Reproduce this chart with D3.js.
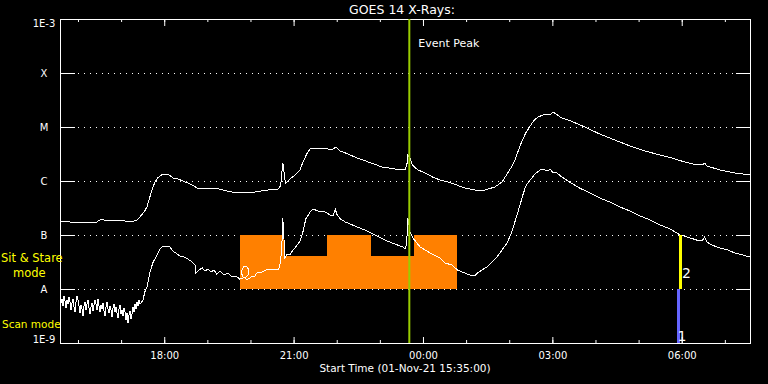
<!DOCTYPE html>
<html><head><meta charset="utf-8">
<script src="https://cdn.jsdelivr.net/npm/d3@7"></script>
<style>
html,body{margin:0;padding:0;background:#000;}
svg{display:block;background:#000;}
text{font-family:"DejaVu Sans",sans-serif;fill:#fff;}
</style>
</head><body>
<svg id="chart" width="768" height="384"></svg>
<script>
// ---------- data ----------
const titleText = "GOES 14 X-Rays:";
const startTime = "2021-11-01T15:35:00Z";
const startLabel = "Start Time (01-Nov-21 15:35:00)";
const spanMinutes = 960;

const levelValues = [1e-9, 1e-8, 1e-7, 1e-6, 1e-5, 1e-4, 1e-3];
const levelLabels = ["1E-9", "A", "B", "C", "M", "X", "1E-3"];

// long channel (1-8 A), minutes after start, W/m^2
const longTimes = [0,14,28,42,51,58,64,77,90,100,107,111,117,121,125,129,132,136,141,146,152,157,164,171,181,191,202,216,227,239,250,271,289,303,307,309,310,311,313,314,320,327,334,338,344,348,355,365,373,378,384,390,401,410,429,448,466,480,483,484,487,490,498,508,518,529,540,552,563,577,591,605,615,623,629,633,637,640,644,648,654,660,665,672,679,683,686,690,698,707,717,730,751,772,793,814,835,851,869,886,894,897,900,918,939,960];
const longFlux = [1.82e-7,1.74e-7,1.74e-7,1.67e-7,1.74e-7,1.98e-7,1.82e-7,1.82e-7,1.82e-7,1.74e-7,1.90e-7,2.15e-7,2.67e-7,3.30e-7,5.05e-7,7.41e-7,9.57e-7,1.14e-6,1.29e-6,1.35e-6,1.29e-6,1.14e-6,1.09e-6,1.00e-6,8.79e-7,7.41e-7,7.41e-7,7.41e-7,6.81e-7,6.25e-7,5.99e-7,6.25e-7,6.81e-7,7.10e-7,8.07e-7,1.60e-6,2.15e-6,1.74e-6,1.04e-6,9.18e-7,1.09e-6,1.29e-6,1.60e-6,2.25e-6,3.30e-6,3.91e-6,4.08e-6,4.08e-6,3.91e-6,3.75e-6,4.26e-6,3.59e-6,3.16e-6,2.78e-6,2.25e-6,1.82e-6,1.67e-6,1.60e-6,2.15e-6,3.03e-6,2.67e-6,1.98e-6,1.60e-6,1.41e-6,1.19e-6,1.04e-6,9.57e-7,8.43e-7,7.41e-7,6.81e-7,6.81e-7,7.74e-7,9.57e-7,1.41e-6,1.90e-6,2.45e-6,3.44e-6,4.45e-6,5.99e-6,7.74e-6,1.04e-5,1.35e-5,1.53e-5,1.67e-5,1.67e-5,1.74e-5,1.90e-5,1.74e-5,1.47e-5,1.35e-5,1.19e-5,1.00e-5,7.41e-6,5.74e-6,4.45e-6,3.59e-6,3.03e-6,2.67e-6,2.25e-6,1.98e-6,1.98e-6,2.15e-6,1.90e-6,1.60e-6,1.41e-6,1.29e-6];

// short channel (0.5-4 A)
const shortTimes = [0,1.4,2.8,4.2,5.6,7.0,8.3,9.7,11.1,12.5,13.9,15.3,16.7,18.1,19.5,20.9,22.3,23.7,25.0,26.4,27.8,29.2,30.6,32.0,33.4,34.8,36.2,37.6,39.0,40.4,41.7,43.1,44.5,45.9,47.3,48.7,50.1,51.5,52.9,54.3,55.7,57.1,58.4,59.8,61.2,62.6,64.0,65.4,66.8,68.2,69.6,71.0,72.3,73.7,75.1,76.5,77.9,79.3,80.7,82.1,83.5,84.9,86.3,87.7,89.0,90.4,91.8,93.2,94.6,96.0,97.4,98.8,100.2,101.6,102.9,104.3,105.7,107.1,108.5,109.9,111.3,
  115.5,118,121,125,129,135,139,143,147,153,157,161,167,173,178,184,188,189,193,198,202,206,210,214,218,223,228,234,239,245,250,255,
  252,255,259,263,262,257,260,266,271,275,281,287,292,298,304,307,309,310,311,313,316,320,324,328,334,338,342,348,352,359,369,376,380,383,385,390,397,410,424,438,452,466,477,481,483,484,485,487,491,501,515,529,536,545,553,563,570,577,581,587,594,601,608,615,622,628,632,636,640,644,648,654,661,668,675,679,682,686,690,698,709,723,737,751,765,779,793,807,821,835,849,863,877,890,894,897,900,907,918,929,939,950,960];
const shortFlux = [7.10e-9,5.50e-9,6.52e-9,4.85e-9,7.41e-9,5.99e-9,4.45e-9,6.25e-9,5.27e-9,7.10e-9,5.74e-9,4.08e-9,5.50e-9,6.52e-9,4.64e-9,3.75e-9,5.74e-9,7.41e-9,6.25e-9,4.85e-9,3.59e-9,5.05e-9,4.26e-9,3.16e-9,4.85e-9,5.74e-9,4.08e-9,5.27e-9,6.25e-9,4.45e-9,3.44e-9,4.64e-9,5.50e-9,3.91e-9,5.05e-9,6.25e-9,5.27e-9,4.08e-9,6.52e-9,4.85e-9,3.75e-9,5.05e-9,4.26e-9,5.50e-9,3.91e-9,3.16e-9,4.64e-9,5.74e-9,4.26e-9,3.59e-9,4.85e-9,4.08e-9,3.03e-9,4.45e-9,5.27e-9,3.75e-9,4.64e-9,3.59e-9,2.90e-9,4.26e-9,5.05e-9,3.44e-9,4.08e-9,3.16e-9,4.45e-9,3.75e-9,2.67e-9,3.59e-9,2.35e-9,3.30e-9,3.91e-9,2.78e-9,3.44e-9,4.64e-9,3.75e-9,5.27e-9,4.26e-9,5.74e-9,4.85e-9,6.25e-9,5.27e-9,
  6.25e-9,8.79e-9,1.09e-8,1.98e-8,3.03e-8,4.26e-8,5.50e-8,6.25e-8,6.25e-8,5.99e-8,5.05e-8,4.64e-8,4.08e-8,3.91e-8,3.59e-8,3.16e-8,2.78e-8,1.98e-8,2.25e-8,2.45e-8,2.15e-8,2.35e-8,2.06e-8,2.25e-8,1.90e-8,2.15e-8,1.82e-8,1.98e-8,1.67e-8,1.74e-8,1.53e-8,1.60e-8,
  2.06e-8,2.55e-8,2.67e-8,2.25e-8,1.82e-8,1.60e-8,1.47e-8,1.67e-8,1.74e-8,2.06e-8,2.06e-8,2.25e-8,2.35e-8,2.25e-8,2.25e-8,3.16e-8,8.07e-8,2.06e-7,1.24e-7,3.75e-8,4.45e-8,4.26e-8,5.27e-8,5.99e-8,7.74e-8,1.14e-7,1.98e-7,2.67e-7,3.03e-7,2.78e-7,2.67e-7,2.35e-7,2.25e-7,3.03e-7,2.45e-7,1.98e-7,1.74e-7,1.47e-7,1.24e-7,1.00e-7,8.07e-8,6.81e-8,5.99e-8,5.50e-8,1.00e-7,2.06e-7,1.74e-7,1.14e-7,8.79e-8,5.99e-8,4.64e-8,3.75e-8,3.03e-8,2.78e-8,2.25e-8,1.98e-8,1.82e-8,1.74e-8,1.98e-8,2.25e-8,2.55e-8,3.16e-8,3.91e-8,5.27e-8,7.10e-8,1.09e-7,1.60e-7,2.35e-7,3.59e-7,5.50e-7,8.07e-7,1.04e-6,1.35e-6,1.60e-6,1.60e-6,1.53e-6,1.67e-6,1.41e-6,1.47e-6,1.19e-6,9.57e-7,7.41e-7,5.99e-7,4.85e-7,4.08e-7,3.30e-7,2.78e-7,2.25e-7,1.90e-7,1.53e-7,1.29e-7,1.00e-7,8.79e-8,7.74e-8,8.07e-8,9.18e-8,7.41e-8,6.52e-8,5.74e-8,5.27e-8,4.64e-8,4.26e-8,3.91e-8];

// observing mode blocks (orange)
const modeStarts = [250, 311, 371, 432, 492];
const modeEnds   = [311, 371, 432, 492, 553];
const modeTops   = [1e-7, 4e-8, 1e-7, 4e-8, 1e-7];
const modeBase   = 1e-8;

const eventPeakMinute = 486;
const eventLabel = "Event Peak";

// mode markers (1 = scan, 2 = sit & stare)
const markerMinutes = [860.5, 863.3];
const markerLows    = [1e-9, 1e-8];
const markerHighs   = [1e-8, 1e-7];
const markerLabels  = ["1", "2"];

// ---------- drawing ----------
const svg = d3.select("#chart");
const t0 = new Date(startTime);
const toDate = m => new Date(t0.getTime() + m * 60000);

const x = d3.scaleUtc().domain([t0, toDate(spanMinutes)]).range([60, 750]);
const y = d3.scaleLog().domain([1e-9, 1e-3]).range([343, 19]);

const gridVals = levelValues.slice(1, -1);

// dotted grid
svg.append("g").selectAll("line").data(gridVals).join("line")
  .attr("x1", 78).attr("x2", 737)
  .attr("y1", d => y(d) + 0.5).attr("y2", d => y(d) + 0.5)
  .attr("stroke", "#fff").attr("stroke-width", 1)
  .attr("stroke-dasharray", "1,5").attr("shape-rendering", "crispEdges");

// orange blocks
const modes = modeStarts.map((s, i) => ({s, e: modeEnds[i], top: modeTops[i]}));
svg.append("g").selectAll("rect").data(modes).join("rect")
  .attr("x", d => x(toDate(d.s)))
  .attr("width", d => x(toDate(d.e)) - x(toDate(d.s)))
  .attr("y", d => y(d.top))
  .attr("height", d => y(modeBase) - y(d.top))
  .attr("fill", "#ff8000").attr("shape-rendering", "crispEdges");

// axes ticks
const rmDomain = g => g.select(".domain").remove();
svg.append("g").attr("transform", "translate(0,343)")
  .call(d3.axisBottom(x).ticks(d3.utcHour.every(1)).tickFormat("").tickSizeInner(-3).tickSizeOuter(0)).call(rmDomain);
svg.append("g").attr("transform", "translate(0,343)")
  .call(d3.axisBottom(x).ticks(d3.utcHour.every(3)).tickFormat(d3.utcFormat("%H:%M")).tickSizeInner(-6).tickSizeOuter(0).tickPadding(9)).call(rmDomain);
svg.append("g").attr("transform", "translate(0,19)")
  .call(d3.axisTop(x).ticks(d3.utcHour.every(1)).tickFormat("").tickSizeInner(-3).tickSizeOuter(0)).call(rmDomain);
svg.append("g").attr("transform", "translate(0,19)")
  .call(d3.axisTop(x).ticks(d3.utcHour.every(3)).tickFormat("").tickSizeInner(-7).tickSizeOuter(0)).call(rmDomain);
svg.append("g").attr("transform", "translate(60,0)")
  .call(d3.axisLeft(y).tickValues(gridVals).tickFormat("").tickSizeInner(-15).tickSizeOuter(0)).call(rmDomain);
svg.append("g").attr("transform", "translate(750,0)")
  .call(d3.axisRight(y).tickValues(gridVals).tickFormat("").tickSizeInner(-14).tickSizeOuter(0)).call(rmDomain);
svg.selectAll(".tick line").attr("stroke", "#fff");
svg.selectAll(".tick text").attr("fill", "#fff").style("font-family", "DejaVu Sans").style("font-size", "10px");

// frame
svg.append("rect").attr("x", 60.5).attr("y", 19.5).attr("width", 690).attr("height", 324)
  .attr("fill", "none").attr("stroke", "#fff").attr("stroke-width", 1);

// y labels
svg.append("g").selectAll("text").data(levelValues).join("text")
  .attr("x", 44).attr("text-anchor", "middle").style("font-size", "10px")
  .attr("y", d => Math.min(343.3, Math.max(26.7, y(d) + 4)))
  .text((d, i) => levelLabels[i]);

// curves
const line = d3.line().x(d => x(toDate(d[0]))).y(d => y(d[1]));
const longPts = longTimes.map((t, i) => [t, longFlux[i]]);
const shortPts = shortTimes.map((t, i) => [t, shortFlux[i]]);
svg.append("path").datum(longPts).attr("d", line)
  .attr("fill", "none").attr("stroke", "#fff").attr("stroke-width", 1).attr("shape-rendering", "crispEdges");
svg.append("path").datum(shortPts).attr("d", line)
  .attr("fill", "none").attr("stroke", "#fff").attr("stroke-width", 1).attr("shape-rendering", "crispEdges");

// markers
const markers = markerMinutes.map((m, i) => ({m, lo: markerLows[i], hi: markerHighs[i], label: markerLabels[i]}));
const markerColors = ["#6666ff", "#ffff00"];
svg.append("g").selectAll("line").data(markers).join("line")
  .attr("x1", d => x(toDate(d.m))).attr("x2", d => x(toDate(d.m)))
  .attr("y1", d => y(d.lo)).attr("y2", d => y(d.hi))
  .attr("stroke", (d, i) => markerColors[i]).attr("stroke-width", 3);
svg.append("g").selectAll("text").data(markers).join("text")
  .attr("x", (d, i) => x(toDate(d.m)) + (i === 0 ? -1 : 1.5))
  .attr("y", (d, i) => i === 0 ? 341 : 278)
  .style("font-size", "14px").attr("fill", "#e0e0e0")
  .text(d => d.label);

// event peak line
const xp = x(toDate(eventPeakMinute));
svg.append("line").attr("x1", xp).attr("x2", xp).attr("y1", 19).attr("y2", 343)
  .attr("stroke", "#99cc00").attr("stroke-width", 2);
svg.append("text").attr("x", xp + 9).attr("y", 47).style("font-size", "11px").text(eventLabel);

// titles and side labels
svg.append("text").attr("x", 402).attr("y", 14).attr("text-anchor", "middle").style("font-size", "12.5px").text(titleText);
svg.append("text").attr("x", 405).attr("y", 371.5).attr("text-anchor", "middle").style("font-size", "10.5px").text(startLabel);
const sideLabels = [["Sit & Stare", 1, 261.5, 11.5], ["mode", 13, 276.5, 11.5], ["Scan mode", 2, 328, 10.5]];
svg.append("g").selectAll("text").data(sideLabels).join("text")
  .attr("x", d => d[1]).attr("y", d => d[2]).style("fill", "#ffff00")
  .style("font-size", d => d[3] + "px").text(d => d[0]);
</script>
</body></html>
